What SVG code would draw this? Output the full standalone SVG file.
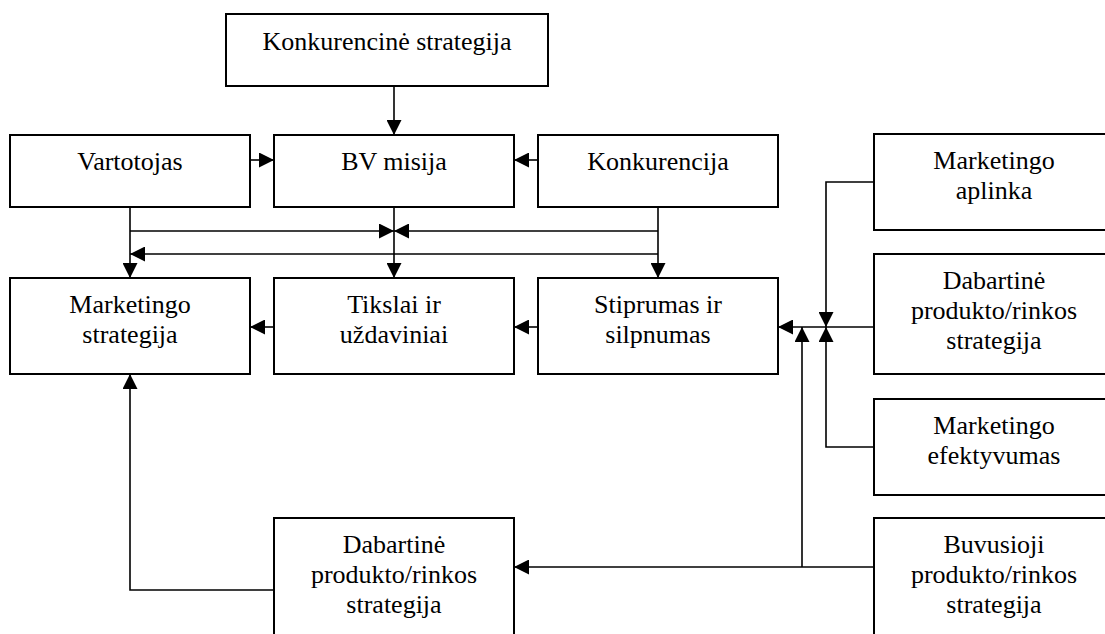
<svg xmlns="http://www.w3.org/2000/svg" width="1105" height="634" viewBox="0 0 1105 634">
<defs>
<style>
.box{fill:#fff;stroke:#000;stroke-width:2}
.t{font-family:'Liberation Serif','Times New Roman','DejaVu Serif',serif;font-size:26px;fill:#000;text-anchor:middle}
.c{fill:none;stroke:#000;stroke-width:1.6}
</style>
<marker id="ah" markerUnits="userSpaceOnUse" markerWidth="15" markerHeight="15" refX="15" refY="7.5" orient="auto" viewBox="0 0 15 15">
<path d="M0,0 L15,7.5 L0,15 z" fill="#000"/>
</marker>
</defs>
<rect width="1105" height="634" fill="#fff"/>
<g id="connectors">
<path class="c" d="M394,86 V135" marker-end="url(#ah)"/>
<path class="c" d="M250,160 H274" marker-end="url(#ah)"/>
<path class="c" d="M538,160 H514" marker-end="url(#ah)"/>
<path class="c" d="M130,207 V278" marker-end="url(#ah)"/>
<path class="c" d="M394,207 V278" marker-end="url(#ah)"/>
<path class="c" d="M658,207 V278" marker-end="url(#ah)"/>
<path class="c" d="M130,231 H394" marker-end="url(#ah)"/>
<path class="c" d="M658,231 H394" marker-end="url(#ah)"/>
<path class="c" d="M658,254 H130" marker-end="url(#ah)"/>
<path class="c" d="M274,327 H250" marker-end="url(#ah)"/>
<path class="c" d="M538,327 H514" marker-end="url(#ah)"/>
<path class="c" d="M874,327 H778" marker-end="url(#ah)"/>
<path class="c" d="M874,182 H826 V327" marker-end="url(#ah)"/>
<path class="c" d="M874,447 H826 V327" marker-end="url(#ah)"/>
<path class="c" d="M874,567 H514" marker-end="url(#ah)"/>
<path class="c" d="M802,567 V327" marker-end="url(#ah)"/>
<path class="c" d="M274,590 H130 V374" marker-end="url(#ah)"/>
</g>
<g id="n-konk-strat"><rect class="box" x="226" y="14" width="322" height="72"/><text class="t" font-family="Liberation Serif, serif" x="387" y="50">Konkurencinė strategija</text></g>
<g id="n-vartotojas"><rect class="box" x="10" y="135" width="240" height="72"/><text class="t" x="130" y="170">Vartotojas</text></g>
<g id="n-bv"><rect class="box" x="274" y="135" width="240" height="72"/><text class="t" x="394" y="170">BV misija</text></g>
<g id="n-konkurencija"><rect class="box" x="538" y="135" width="240" height="72"/><text class="t" x="658" y="170">Konkurencija</text></g>
<g id="n-mstrat"><rect class="box" x="10" y="278" width="240" height="96"/><text class="t" x="130" y="313">Marketingo</text><text class="t" x="130" y="343">strategija</text></g>
<g id="n-tikslai"><rect class="box" x="274" y="278" width="240" height="96"/><text class="t" x="394" y="313">Tikslai ir</text><text class="t" x="394" y="343">uždaviniai</text></g>
<g id="n-stiprumas"><rect class="box" x="538" y="278" width="240" height="96"/><text class="t" x="658" y="313">Stiprumas ir</text><text class="t" x="658" y="343">silpnumas</text></g>
<g id="n-maplinka"><rect class="box" x="874" y="134" width="240" height="96"/><text class="t" x="994" y="169">Marketingo</text><text class="t" x="994" y="199">aplinka</text></g>
<g id="n-dab-right"><rect class="box" x="874" y="254" width="240" height="120"/><text class="t" x="994" y="289">Dabartinė</text><text class="t" x="994" y="319">produkto/rinkos</text><text class="t" x="994" y="349">strategija</text></g>
<g id="n-mefekt"><rect class="box" x="874" y="399" width="240" height="96"/><text class="t" x="994" y="434">Marketingo</text><text class="t" x="994" y="464">efektyvumas</text></g>
<g id="n-dab-bottom"><rect class="box" x="274" y="518" width="240" height="120"/><text class="t" x="394" y="553">Dabartinė</text><text class="t" x="394" y="583">produkto/rinkos</text><text class="t" x="394" y="613">strategija</text></g>
<g id="n-buvusioji"><rect class="box" x="874" y="518" width="240" height="120"/><text class="t" x="994" y="553">Buvusioji</text><text class="t" x="994" y="583">produkto/rinkos</text><text class="t" x="994" y="613">strategija</text></g>
</svg>
